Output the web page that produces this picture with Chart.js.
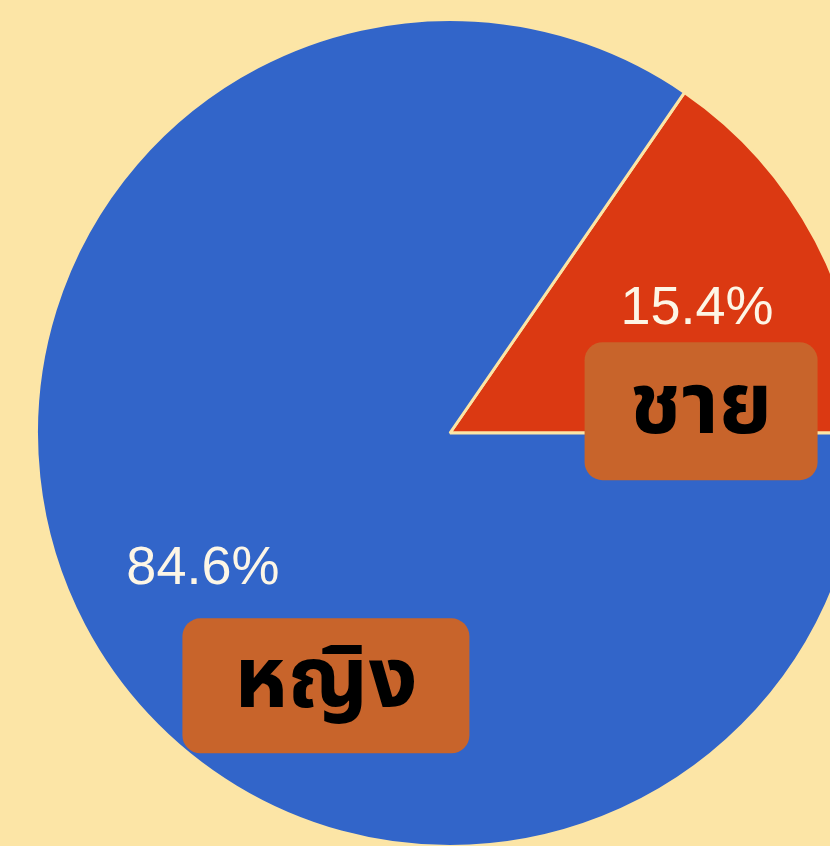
<!DOCTYPE html>
<html>
<head>
<meta charset="utf-8">
<script src="https://cdn.jsdelivr.net/npm/chart.js@4"></script>
<style>
    html, body { margin: 0; padding: 0; background: #fce5a6; overflow: hidden; width: 830px; height: 846px; }
    #wrap { position: absolute; left: 0; top: 18px; }
</style>
</head>
<body>
<div id="wrap"><canvas id="genderPie" width="900" height="830"></canvas></div>
<script>
    // data
    const labels = ['ชาย', 'หญิง'];
    const percents = [15.4, 84.6];
    const colors = ['#db3912', '#3265c9'];

    const bg = '#fce5a6';

    // tag boxes, offset from the percentage label of each slice
    const tagStyle = [
        { dx: 4, dy: 102, w: 233, h: 138 },
        { dx: 123, dy: 117, w: 287, h: 135 }
    ];

    function labelPoint(arc, frac) {
        let mid = (arc.startAngle + arc.endAngle) / 2;
        let r = arc.outerRadius * frac;
        return { x: arc.x + Math.cos(mid) * r, y: arc.y + Math.sin(mid) * r };
    }

    const sliceLabels = {
        id: 'sliceLabels',
        afterDatasetsDraw(chart) {
            let ctx = chart.ctx;
            let arcs = chart.getDatasetMeta(0).data;
            ctx.save();
            arcs.forEach(function (arc, i) {
                let p = labelPoint(arc, 0.675);
                p.y += 6;
                ctx.fillStyle = '#fdf6e6';
                ctx.font = '54px "Liberation Sans", Arial, sans-serif';
                ctx.textAlign = 'center';
                ctx.textBaseline = 'middle';
                ctx.fillText(percents[i].toFixed(1) + '%', p.x, p.y);

                let t = tagStyle[i];
                let cx = p.x + t.dx, cy = p.y + t.dy;
                ctx.fillStyle = '#c8642b';
                ctx.beginPath();
                ctx.roundRect(cx - t.w / 2, cy - t.h / 2, t.w, t.h, 18);
                ctx.fill();
                ctx.fillStyle = '#000';
                ctx.font = 'bold 86px "Noto Sans Thai", "Noto Sans", sans-serif';
                ctx.fillText(labels[i], cx, cy + 4);
            });
            ctx.restore();
        }
    };

    window.onload = function () {
        let ctx = document.getElementById('genderPie').getContext('2d');
        let total = percents.reduce((a, b) => a + b, 0);
        new Chart(ctx, {
            type: 'pie',
            data: {
                labels: labels,
                datasets: [{
                    data: percents,
                    backgroundColor: colors,
                    borderColor: bg,
                    borderWidth: 3
                }]
            },
            options: {
                responsive: false,
                animation: false,
                rotation: 90 - 360 * percents[0] / total,
                layout: { padding: 0 },
                plugins: {
                    legend: { display: false },
                    tooltip: { enabled: false }
                }
            },
            plugins: [sliceLabels]
        });
    }
</script>
</body>
</html>
